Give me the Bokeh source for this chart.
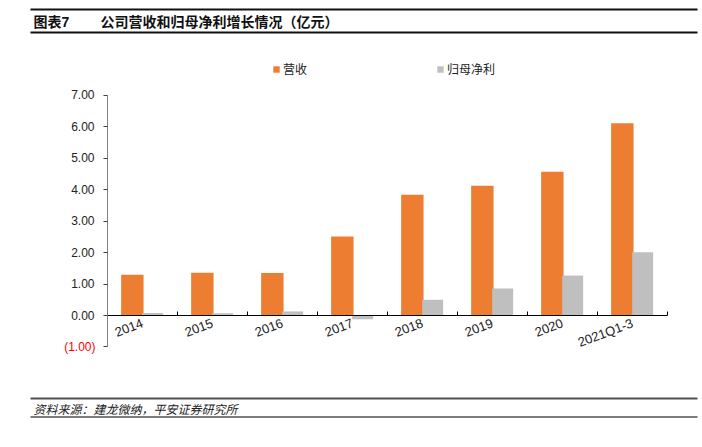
from bokeh.plotting import figure
from bokeh.models import (Range1d, FixedTicker, Legend, LegendItem, LinearAxis,
                          ColumnDataSource)
from bokeh.core.properties import value
from bokeh.transform import dodge
from bokeh.embed import file_html
from bokeh.resources import INLINE

# ---- data ----
categories = ["2014", "2015", "2016", "2017", "2018", "2019", "2020", "2021Q1-3"]
revenue = [1.30, 1.36, 1.35, 2.51, 3.84, 4.13, 4.57, 6.12]
net_profit = [0.08, 0.07, 0.13, -0.12, 0.50, 0.86, 1.27, 2.01]
y_ticks = [-1, 0, 1, 2, 3, 4, 5, 6, 7]
series_names = ["营收", "归母净利"]
series_colors = ["#ED7D31", "#BFBFBF"]
title_no = "图表7"
title_text = "公司营收和归母净利增长情况（亿元）"
source_text = "资料来源：建龙微纳，平安证券研究所"

FONT = "Liberation Sans, Noto Sans CJK SC"
CJK = "Noto Sans CJK SC"

# ---- canvas geometry (pixels) ----
W, H = 698, 420
AX_LEFT_PX, CAT_PX = 107.0, 70.0      # y-axis position, width of one category
ZERO_PX, UNIT_PX = 315.0, 31.43       # y=0 position, pixels per unit


def px2x(px):
    return (px - AX_LEFT_PX) / CAT_PX


def py2y(py):
    return (ZERO_PX - py) / UNIT_PX


p = figure(width=W, height=H,
           x_range=Range1d(px2x(0), px2x(W)), y_range=Range1d(py2y(H), py2y(0)),
           output_backend="svg", toolbar_location=None,
           x_axis_type=None, y_axis_type=None,
           min_border=0, min_border_left=0, min_border_right=0,
           min_border_top=0, min_border_bottom=0)
p.outline_line_color = None
p.xgrid.grid_line_color = None
p.ygrid.grid_line_color = None
p.background_fill_color = "white"
p.border_fill_color = "white"

# ---- bars ----
x_pos = [i + 0.5 for i in range(len(categories))]
src = ColumnDataSource(dict(x=x_pos, revenue=revenue, net_profit=net_profit))
r1 = p.vbar(x=dodge("x", -0.145), top="revenue", width=0.32, source=src,
            fill_color=series_colors[0], line_color=None)
r2 = p.vbar(x=dodge("x", 0.145), top="net_profit", width=0.30, source=src,
            fill_color=series_colors[1], line_color=None)

# ---- x axis at zero ----
xa = LinearAxis(fixed_location=0, bounds=(0, len(categories)))
xa.ticker = FixedTicker(ticks=x_pos, minor_ticks=list(range(len(categories) + 1)))
xa.major_label_overrides = {x: c for x, c in zip(x_pos, categories)}
xa.major_tick_in = 0
xa.major_tick_out = 0
xa.minor_tick_in = 4
xa.minor_tick_out = 0
xa.minor_tick_line_color = "#000000"
xa.axis_line_color = "#000000"
xa.major_label_orientation = 0.36
xa.major_label_text_font = FONT
xa.major_label_text_font_size = "13px"
xa.major_label_text_color = "#222222"
xa.major_label_standoff = 7
p.add_layout(xa, "below")

# ---- y axis ----
ya = LinearAxis(fixed_location=0, bounds=(y_ticks[0], y_ticks[-1]))
ya.ticker = FixedTicker(ticks=y_ticks, minor_ticks=[])
ya.major_label_overrides = {t: (" " if t < 0 else f"{t:.2f}") for t in y_ticks}
ya.major_tick_in = 0
ya.major_tick_out = 4
ya.minor_tick_in = 0
ya.minor_tick_out = 0
ya.axis_line_color = "#7F7F7F"
ya.major_tick_line_color = "#404040"
ya.major_label_text_font = FONT
ya.major_label_text_font_size = "12px"
ya.major_label_text_color = "#222222"
ya.major_label_standoff = 9
p.add_layout(ya, "left")

neg_ticks = [t for t in y_ticks if t < 0]
p.text(x=[px2x(95)] * len(neg_ticks), y=neg_ticks,
       text=[f"({abs(t):.2f})" for t in neg_ticks],
       text_font=value(FONT), text_font_size="12px", text_color="#FF0000",
       text_align="right", text_baseline="middle")

# ---- legend ----
legend = Legend(items=[LegendItem(label=series_names[0], renderers=[r1]),
                       LegendItem(label=series_names[1], renderers=[r2])],
                orientation="horizontal", location=(272, H - 77),
                glyph_width=8, glyph_height=8, label_standoff=3, spacing=129,
                padding=0, margin=0, border_line_color=None,
                background_fill_alpha=0, label_text_font=CJK,
                label_text_font_size="12px", label_text_color="#222222",
                label_height=14)
p.add_layout(legend)

# ---- title and source, with their rules ----
rule_y_px = [9, 32, 398, 416.5]
p.segment(x0=[px2x(30)] * 4, x1=[px2x(697)] * 4,
          y0=[py2y(v) for v in rule_y_px], y1=[py2y(v) for v in rule_y_px],
          line_color=["#111111", "#111111", "#505050", "#505050"],
          line_width=[1.8, 1.8, 1.8, 1.5])
p.text(x=[px2x(33), px2x(100)], y=[py2y(21)] * 2, text=[title_no, title_text],
       text_font=value(FONT), text_font_style="bold", text_font_size="14px",
       text_baseline="middle", text_align="left", text_color="#111111")
p.text(x=[px2x(33)], y=[py2y(407.5)], text=[source_text],
       text_font=value(CJK), text_font_style="italic", text_font_size="12px",
       text_baseline="middle", text_align="left", text_color="#222222")

open("out.html", "w").write(file_html(p, INLINE))
